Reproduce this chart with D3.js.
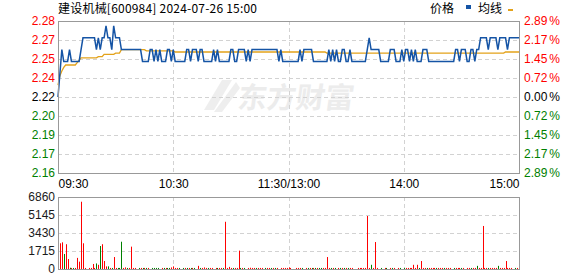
<!DOCTYPE html>
<html>
<head>
<meta charset="utf-8">
<script src="https://cdn.jsdelivr.net/npm/d3@7"></script>
<style>
  body { margin: 0; background: #fff; }
  svg { display: block; }
  text { font-family: "Liberation Sans", Arial, sans-serif; font-size: 12px; }
  .cjk { font-family: "Noto Sans CJK SC", sans-serif; }
</style>
</head>
<body>
<svg id="chart" width="578" height="276"></svg>
<script>
var preClose = 2.22;

// minute prices 09:30 .. 15:00 (241 points)
var price = [
  2.22,2.24,2.26,2.25,2.25,2.25,2.26,2.25,2.25,2.25,
  2.25,2.25,2.26,2.27,2.27,2.27,2.27,2.27,2.27,2.27,
  2.26,2.27,2.26,2.27,2.27,2.28,2.27,2.27,2.26,2.28,
  2.27,2.27,2.27,2.26,2.26,2.26,2.26,2.26,2.26,2.26,
  2.26,2.26,2.26,2.26,2.25,2.25,2.25,2.25,2.26,2.26,
  2.25,2.26,2.25,2.26,2.25,2.25,2.25,2.26,2.26,2.25,
  2.26,2.25,2.25,2.25,2.25,2.25,2.25,2.26,2.26,2.25,
  2.26,2.26,2.26,2.25,2.26,2.26,2.25,2.25,2.25,2.25,
  2.25,2.26,2.25,2.26,2.25,2.25,2.25,2.25,2.25,2.25,
  2.26,2.26,2.25,2.25,2.26,2.26,2.26,2.26,2.25,2.26,
  2.25,2.26,2.26,2.26,2.26,2.26,2.26,2.26,2.26,2.26,
  2.26,2.26,2.26,2.26,2.26,2.25,2.26,2.25,2.25,2.25,
  2.25,2.25,2.25,2.25,2.25,2.25,2.26,2.25,2.26,2.26,
  2.26,2.26,2.26,2.25,2.25,2.25,2.25,2.25,2.25,2.25,
  2.25,2.26,2.25,2.26,2.25,2.26,2.25,2.25,2.26,2.26,
  2.25,2.25,2.26,2.25,2.25,2.25,2.25,2.25,2.25,2.25,
  2.25,2.26,2.27,2.26,2.26,2.26,2.26,2.26,2.25,2.25,
  2.25,2.25,2.25,2.26,2.26,2.26,2.25,2.25,2.25,2.26,
  2.25,2.26,2.26,2.25,2.26,2.25,2.26,2.25,2.25,2.25,
  2.26,2.26,2.26,2.25,2.25,2.25,2.25,2.25,2.25,2.25,
  2.25,2.25,2.25,2.25,2.25,2.25,2.25,2.26,2.26,2.25,
  2.26,2.26,2.26,2.25,2.25,2.26,2.26,2.25,2.26,2.26,
  2.27,2.27,2.27,2.27,2.26,2.27,2.27,2.27,2.27,2.26,
  2.27,2.27,2.27,2.27,2.26,2.27,2.27,2.27,2.27,2.27,
  2.27
];

// average price line
var avgPrice = [
  2.230,2.238,2.242,2.245,2.247,2.247,2.247,2.247,2.247,2.247,
  2.249,2.251,2.253,2.253,2.253,2.253,2.253,2.253,2.253,2.253,
  2.253,2.254,2.254,2.254,2.256,2.256,2.256,2.256,2.256,2.256,
  2.257,2.257,2.257,2.260,2.260,2.260,2.260,2.260,2.260,2.260,
  2.260,2.260,2.260,2.260,2.260,2.260,2.259,2.259,2.259,2.259,
  2.259,2.259,2.259,2.259,2.259,2.259,2.259,2.259,2.259,2.259,
  2.259,2.258,2.258,2.258,2.258,2.258,2.258,2.258,2.258,2.258,
  2.258,2.258,2.258,2.258,2.258,2.258,2.258,2.258,2.258,2.258,
  2.258,2.258,2.258,2.258,2.258,2.258,2.258,2.258,2.258,2.258,
  2.258,2.258,2.258,2.258,2.258,2.258,2.258,2.258,2.258,2.258,
  2.258,2.258,2.258,2.258,2.258,2.258,2.258,2.258,2.258,2.258,
  2.258,2.258,2.258,2.258,2.258,2.258,2.258,2.258,2.258,2.258,
  2.258,2.258,2.258,2.258,2.258,2.258,2.258,2.258,2.258,2.258,
  2.258,2.258,2.258,2.258,2.258,2.258,2.258,2.258,2.258,2.258,
  2.257,2.257,2.257,2.257,2.257,2.257,2.257,2.257,2.257,2.257,
  2.257,2.257,2.257,2.257,2.257,2.257,2.257,2.257,2.257,2.257,
  2.257,2.257,2.257,2.257,2.257,2.257,2.257,2.257,2.257,2.257,
  2.257,2.257,2.257,2.257,2.257,2.257,2.257,2.257,2.257,2.257,
  2.257,2.257,2.257,2.257,2.257,2.257,2.257,2.257,2.257,2.257,
  2.257,2.257,2.257,2.257,2.257,2.257,2.257,2.257,2.257,2.257,
  2.257,2.257,2.257,2.257,2.257,2.257,2.257,2.257,2.257,2.257,
  2.257,2.257,2.257,2.257,2.257,2.257,2.257,2.257,2.257,2.257,
  2.257,2.257,2.257,2.257,2.257,2.257,2.257,2.257,2.257,2.257,
  2.257,2.257,2.257,2.258,2.258,2.258,2.258,2.258,2.258,2.258,
  2.258
];

// minute volume (lots)
var volume = [
  0,2450,2540,1430,2360,950,120,100,100,100,
  1060,700,6410,2450,100,0,100,100,480,100,
  530,400,2190,2360,760,250,250,100,100,1140,
  100,100,100,2600,100,150,100,100,2130,100,
  100,0,100,100,100,100,100,100,0,100,
  100,100,100,0,100,100,100,100,100,150,
  250,100,100,100,0,100,100,100,100,100,
  100,100,0,300,100,100,150,100,100,100,
  100,0,100,100,100,100,100,4500,100,200,
  100,100,100,100,1750,100,100,100,0,100,
  120,100,100,100,100,100,100,0,100,100,
  100,100,100,100,100,0,100,100,100,100,
  150,100,0,0,100,100,100,100,0,100,
  100,100,100,100,100,100,100,100,100,100,
  1140,100,100,100,100,0,100,100,100,100,
  100,100,100,100,0,0,100,100,100,100,
  100,5050,100,400,100,2570,100,0,100,0,
  100,100,0,100,100,100,0,100,100,0,
  100,100,100,100,100,400,100,400,100,760,
  100,100,100,100,100,100,100,100,100,100,
  100,100,100,100,100,0,100,100,100,100,
  100,100,0,100,100,100,100,100,300,100,
  100,4100,100,100,100,100,100,100,100,300,
  100,100,100,760,100,100,100,0,100,100,
  4480
];

// r = up bar, g = down bar
var volumeSide = (
  "rrrgrrgrgr" + "rrrrrrrrrr" + "grgrrrgrgr" + "rgggrrgrrr" + "rrgrgrgrrg" +
  "gggrrgrggr" + "rrrgrgrgrg" + "rgrrgrrrgr" + "rrrgrrgrrr" + "rgrrrgrgrr" +
  "rrrgrrrrgr" + "rgrgrrrrrr" + "rrrrrrrgrr" + "grgrgrggrr" + "rrgrgrrgrg" +
  "rgrrgrrrrr" + "rrrgrrrrgr" + "rgrrgrrrgr" + "grrrrrrrgr" + "rrgrrrrgrr" +
  "rgrrrrgrrr" + "grrrrgrrgr" + "rrrrgrrrrg" + "rrrrrrrrgr" + "r"
).split("");

var pctTicks = [2.89, 2.17, 1.45, 0.72, 0, -0.72, -1.45, -2.17, -2.89];
var priceLabels = ["2.28", "2.27", "2.25", "2.24", "2.22", "2.20", "2.19", "2.17", "2.16"];
var pctLabels = ["2.89", "2.17", "1.45", "0.72", "0.00", "0.72", "1.45", "2.17", "2.89"];
var volTicks = [6860, 5145, 3430, 1715, 0];
var timeTicks = [0, 60, 120, 180, 240];
var timeLabels = ["09:30", "10:30", "11:30/13:00", "14:00", "15:00"];

var RED = "#ff0000", GREEN = "#008000", BLUE = "#1554a5", GOLD = "#e3a21a";
var GRID = "#d2d2d2", FRAME = "#999999";

var left = 58, right = 519;
var pTop = 21, pBottom = 173;
var vTop = 197, vBottom = 269;

var svg = d3.select("#chart");

var x = d3.scaleLinear().domain([0, 240]).range([left, right]);
var yPct = d3.scaleLinear().domain([-2.89, 2.89]).range([pBottom, pTop]);
var yVol = d3.scaleLinear().domain([0, 6860]).range([vBottom, vTop]);
function toPct(p) { return (p / preClose - 1) * 100; }
function tickColor(i) { return i < 4 ? RED : (i === 4 ? "#000" : GREEN); }

// watermark
var wm = svg.append("g").attr("fill", "#ececec");
wm.append("path")
  .attr("d", "M204,110 L222,80 L232,80 L214,110 Z M214,112 L236,82 L240,88 L222,112 Z")
  .attr("opacity", 0.9);
wm.append("text").attr("class", "cjk")
  .attr("x", 237).attr("y", 108)
  .style("font-size", "29px").style("font-weight", "bold")
  .attr("transform", "skewX(-8) translate(15,0)")
  .text("东方财富");

// grids
function hGrid(scale, values) {
  svg.append("g").selectAll("line").data(values).join("line")
    .attr("x1", left).attr("x2", right)
    .attr("y1", function(d) { return Math.round(scale(d)) + 0.5; })
    .attr("y2", function(d) { return Math.round(scale(d)) + 0.5; })
    .attr("stroke", GRID).attr("stroke-dasharray", "4,3");
}
function vGrid(y0, y1) {
  svg.append("g").selectAll("line").data(timeTicks.slice(1, 4)).join("line")
    .attr("x1", function(d) { return Math.round(x(d)) + 0.5; })
    .attr("x2", function(d) { return Math.round(x(d)) + 0.5; })
    .attr("y1", y0).attr("y2", y1)
    .attr("stroke", GRID).attr("stroke-dasharray", "4,3");
}
hGrid(yPct, pctTicks.slice(1, 8));
vGrid(pTop, pBottom);
hGrid(yVol, volTicks.slice(1, 4));
vGrid(vTop, vBottom);

// volume bars
svg.append("g").selectAll("rect")
  .data(volume.map(function(v, i) { return { i: i, v: v }; }).filter(function(d) { return d.v > 0; }))
  .join("rect")
  .attr("x", function(d) { return Math.round(x(d.i)); })
  .attr("width", 1)
  .attr("y", function(d) { return Math.min(yVol(d.v), vBottom - 1); })
  .attr("height", function(d) { return Math.max(vBottom - yVol(d.v), 1); })
  .attr("fill", function(d) { return volumeSide[d.i] === "g" ? GREEN : RED; });

// price + average lines
var line = d3.line()
  .x(function(d, i) { return x(i); })
  .y(function(d) { return yPct(toPct(d)); });
svg.append("path").datum(avgPrice).attr("d", line)
  .attr("fill", "none").attr("stroke", GOLD).attr("stroke-width", 1.3);
svg.append("path").datum(price).attr("d", line)
  .attr("fill", "none").attr("stroke", BLUE).attr("stroke-width", 1.5)
  .attr("stroke-linejoin", "miter");

// frames
svg.append("rect").attr("x", left + 0.5).attr("y", pTop + 0.5)
  .attr("width", right - left).attr("height", pBottom - pTop)
  .attr("fill", "none").attr("stroke", FRAME);
svg.append("rect").attr("x", left + 0.5).attr("y", vTop + 0.5)
  .attr("width", right - left).attr("height", vBottom - vTop)
  .attr("fill", "none").attr("stroke", FRAME);

// left price axis
var leftAxis = svg.append("g").attr("transform", "translate(" + left + ",0)")
  .call(d3.axisLeft(yPct).tickValues(pctTicks).tickSize(0).tickPadding(3)
    .tickFormat(function(d, i) { return priceLabels[i]; }));
leftAxis.select(".domain").remove();
leftAxis.selectAll("text")
  .attr("fill", function(d, i) { return tickColor(i); })
  .style("font-size", "12px").style("font-family", "Liberation Sans, Arial, sans-serif");

// right percent axis
var rightAxis = svg.append("g").attr("transform", "translate(" + right + ",0)")
  .call(d3.axisRight(yPct).tickValues(pctTicks).tickSize(0).tickPadding(5)
    .tickFormat(function(d, i) { return pctLabels[i]; }));
rightAxis.select(".domain").remove();
rightAxis.selectAll("text")
  .attr("fill", function(d, i) { return tickColor(i); })
  .style("font-size", "12px").style("font-family", "Liberation Sans, Arial, sans-serif")
  .append("tspan").attr("dx", 2).text("%");

// time axis
var timeAxis = svg.append("g").attr("transform", "translate(0," + pBottom + ")")
  .call(d3.axisBottom(x).tickValues(timeTicks).tickSize(0).tickPadding(6)
    .tickFormat(function(d, i) { return timeLabels[i]; }));
timeAxis.select(".domain").remove();
timeAxis.selectAll("text")
  .attr("fill", "#000")
  .style("font-size", "12px").style("font-family", "Liberation Sans, Arial, sans-serif")
  .attr("text-anchor", function(d, i) { return i === 0 ? "start" : (i === 4 ? "end" : "middle"); });

// volume axis
var volAxis = svg.append("g").attr("transform", "translate(" + left + ",0)")
  .call(d3.axisLeft(yVol).tickValues(volTicks).tickSize(0).tickPadding(3)
    .tickFormat(d3.format("d")));
volAxis.select(".domain").remove();
volAxis.selectAll("text")
  .attr("fill", "#1a1a1a")
  .style("font-size", "12px").style("font-family", "Liberation Sans, Arial, sans-serif");

// title + legend
svg.append("text").attr("class", "cjk")
  .attr("x", left).attr("y", 13)
  .attr("textLength", 199).attr("lengthAdjust", "spacing")
  .style("font-size", "12px").attr("fill", "#000")
  .text("建设机械[600984] 2024-07-26 15:00");
svg.append("text").attr("class", "cjk")
  .attr("x", 430).attr("y", 13).style("font-size", "12px").attr("fill", "#000")
  .text("价格");
svg.append("rect").attr("x", 466).attr("y", 5).attr("width", 5).attr("height", 4).attr("fill", BLUE);
svg.append("text").attr("class", "cjk")
  .attr("x", 478).attr("y", 13).style("font-size", "12px").attr("fill", "#000")
  .text("均线");
svg.append("rect").attr("x", 508).attr("y", 9).attr("width", 5).attr("height", 2).attr("fill", GOLD);
</script>
</body>
</html>
